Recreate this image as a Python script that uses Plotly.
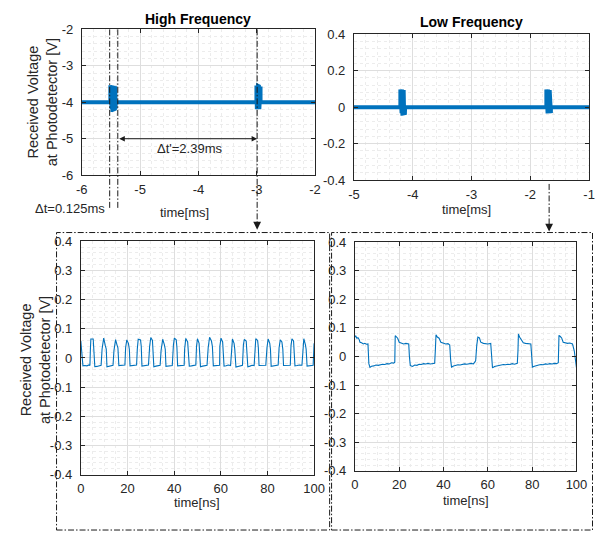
import plotly.graph_objects as go

# ---------------- data ----------------
# High-frequency capture, millisecond view (baseline with two pulse bursts)
hf_ms_t = [-6.0, -5.51,
           -5.51, -5.503, -5.496, -5.489, -5.482, -5.475, -5.468, -5.461, -5.454,
           -5.447, -5.440, -5.433, -5.426, -5.42,
           -5.42, -3.005,
           -3.005, -2.998, -2.991, -2.984, -2.977, -2.970, -2.963, -2.956, -2.949,
           -2.942, -2.935,
           -2.935, -2.0]
hf_ms_v = [-4.0, -4.0,
           -3.53, -4.19, -3.53, -4.19, -3.54, -4.19, -3.54, -4.18, -3.55,
           -4.19, -3.56, -4.18, -3.56, -4.18,
           -4.0, -4.0,
           -3.54, -4.19, -3.54, -4.19, -3.55, -4.18, -3.56, -4.19, -3.57,
           -4.18, -3.57,
           -4.0, -4.0]

# Low-frequency capture, millisecond view
lf_ms_t = [-5.0, -4.21,
           -4.21, -4.203, -4.196, -4.189, -4.182, -4.175, -4.168, -4.161, -4.154,
           -4.147, -4.140, -4.133,
           -4.13, -1.727,
           -1.727, -1.720, -1.713, -1.706, -1.699, -1.692, -1.685, -1.678, -1.671,
           -1.664, -1.657, -1.650,
           -1.65, -1.0]
lf_ms_v = [0.0, 0.0,
           0.097, -0.033, 0.097, -0.033, 0.096, -0.034, 0.095, -0.033, 0.094,
           -0.034, 0.094, -0.033,
           0.0, 0.0,
           0.097, -0.033, 0.097, -0.034, 0.096, -0.033, 0.095, -0.034, 0.094,
           -0.033, 0.094, -0.033,
           0.0, 0.0]

# High-frequency capture, nanosecond view (5 ns period)
hf_ns_t = [0.0, 0.4, 0.9, 1.7, 2.6, 3.5, 3.9,
           4.1, 4.3, 5.3, 5.6, 6.0, 6.9, 7.8, 8.7,
           9.1, 9.8, 10.5, 10.9, 11.2, 12.1, 13.0, 13.8,
           14.2, 14.9, 15.5, 15.9, 16.3, 17.2, 18.1, 18.9,
           19.2, 19.7, 20.4, 20.8, 21.1, 22.0, 23.0, 23.9,
           24.2, 24.6, 25.6, 25.9, 26.2, 27.1, 28.0, 29.0,
           29.5, 30.0, 30.7, 31.0, 31.3, 32.2, 33.1, 34.0,
           34.4, 35.1, 35.8, 36.2, 36.5, 37.4, 38.3, 39.2,
           39.7, 40.1, 40.9, 41.2, 41.5, 42.4, 43.3, 44.3,
           44.5, 45.0, 45.8, 46.1, 46.5, 47.4, 48.3, 49.3,
           49.6, 50.0, 50.7, 51.0, 51.3, 52.2, 53.1, 54.1,
           54.6, 55.2, 56.0, 56.4, 56.8, 57.7, 58.6, 59.5,
           59.6, 60.1, 60.8, 61.1, 61.4, 62.3, 63.2, 64.2,
           64.6, 65.0, 65.7, 66.0, 66.5, 67.4, 68.4, 69.3,
           69.7, 70.1, 70.9, 71.2, 71.6, 72.5, 73.4, 74.3,
           74.6, 75.0, 75.8, 76.1, 76.4, 77.3, 78.3, 79.3,
           79.8, 80.3, 81.0, 81.3, 81.6, 82.5, 83.5, 84.6,
           85.0, 85.5, 86.2, 86.6, 86.9, 87.8, 88.8, 89.8,
           90.1, 90.5, 91.2, 91.5, 91.8, 92.7, 93.7, 94.8,
           95.2, 95.6, 96.3, 96.6, 97.0, 97.9, 98.9, 99.6,
           99.9, 100.0]
hf_ns_v = [0.058, 0.030, -0.027, -0.026, -0.027, -0.024, -0.026,
           0.030, 0.065, 0.065, 0.035, -0.030, -0.029, -0.027, -0.025,
           0.030, 0.068, 0.042, 0.030, -0.030, -0.029, -0.026, -0.025,
           0.025, 0.063, 0.045, 0.035, -0.026, -0.025, -0.026, -0.024,
           0.035, 0.062, 0.050, 0.030, -0.027, -0.026, -0.023, -0.024,
           0.030, 0.064, 0.062, 0.040, -0.028, -0.027, -0.025, -0.024,
           0.040, 0.070, 0.060, 0.030, -0.030, -0.028, -0.026, -0.025,
           0.025, 0.064, 0.046, 0.030, -0.029, -0.028, -0.025, -0.026,
           0.045, 0.068, 0.062, 0.035, -0.027, -0.026, -0.024, -0.025,
           0.030, 0.067, 0.055, 0.030, -0.028, -0.027, -0.026, -0.024,
           0.040, 0.066, 0.050, 0.020, -0.030, -0.028, -0.026, -0.025,
           0.035, 0.071, 0.058, 0.040, -0.027, -0.026, -0.027, -0.025,
           0.040, 0.068, 0.055, 0.025, -0.028, -0.027, -0.024, -0.026,
           0.035, 0.065, 0.050, 0.030, -0.031, -0.029, -0.026, -0.025,
           0.045, 0.064, 0.058, 0.030, -0.030, -0.028, -0.025, -0.026,
           0.040, 0.066, 0.060, 0.035, -0.026, -0.025, -0.024, -0.025,
           0.035, 0.065, 0.050, 0.030, -0.029, -0.027, -0.025, -0.024,
           0.035, 0.062, 0.055, 0.030, -0.026, -0.025, -0.024, -0.025,
           0.040, 0.066, 0.058, 0.030, -0.027, -0.026, -0.024, -0.025,
           0.040, 0.066, 0.045, 0.030, -0.028, -0.027, -0.024, -0.025,
           0.030, 0.050]

# Low-frequency capture, nanosecond view (~18.6 ns period)
lf_ns_t = [0.0, 0.4, 0.9, 1.4, 1.9, 2.3, 3.0, 3.8, 4.5, 5.2, 5.9, 6.1, 6.3, 6.8,
           7.5, 8.5, 9.5, 10.5, 11.5, 12.5, 13.5, 14.5, 15.5, 16.5, 17.5, 18.0,
           18.2, 18.7, 19.3, 20.0, 21.0, 22.0, 23.0, 24.3, 24.6, 25.0,
           26.0, 27.0, 28.0, 29.0, 30.0, 31.0, 32.0, 33.0, 34.0, 35.0, 36.0,
           36.3, 36.6, 37.2, 38.0, 38.8, 40.0, 41.0, 42.0, 42.8, 43.2, 43.6,
           44.5, 45.5, 46.5, 47.5, 48.5, 49.5, 50.5, 51.5, 52.5, 53.5, 54.5,
           55.0, 55.5, 56.2, 56.8, 58.0, 59.0, 60.0, 61.3, 61.8, 62.1,
           63.0, 64.0, 65.0, 66.0, 67.0, 68.0, 69.0, 70.0, 71.0, 72.0, 73.3,
           73.6, 73.8, 74.3, 75.0, 76.0, 77.0, 78.0, 79.4, 79.8, 80.1,
           81.0, 82.0, 83.0, 84.0, 85.0, 86.0, 87.0, 88.0, 89.0, 90.0, 91.0, 91.8,
           92.1, 92.7, 93.3, 94.0, 95.0, 96.0, 97.0, 98.2, 99.0, 99.5, 100.0]
lf_ns_v = [0.068, 0.072, 0.064, 0.066, 0.060, 0.050, 0.048, 0.044, 0.046, 0.043, 0.044, 0.000, -0.025, -0.038,
           -0.034, -0.033, -0.030, -0.031, -0.028, -0.027, -0.028, -0.025, -0.026, -0.022, -0.023, -0.020,
           0.073, 0.068, 0.064, 0.050, 0.046, 0.044, 0.046, 0.044, 0.000, -0.032,
           -0.035, -0.030, -0.031, -0.027, -0.028, -0.025, -0.026, -0.024, -0.026, -0.025, -0.024,
           0.020, 0.076, 0.068, 0.064, 0.050, 0.046, 0.044, 0.045, 0.040, -0.010, -0.037,
           -0.033, -0.030, -0.029, -0.030, -0.027, -0.026, -0.027, -0.025, -0.024, -0.026, -0.015,
           0.040, 0.068, 0.065, 0.050, 0.046, 0.045, 0.044, 0.046, 0.000, -0.040,
           -0.035, -0.033, -0.031, -0.030, -0.028, -0.029, -0.027, -0.028, -0.025, -0.027, -0.024,
           0.020, 0.079, 0.068, 0.060, 0.048, 0.046, 0.045, 0.044, 0.000, -0.037,
           -0.034, -0.031, -0.030, -0.028, -0.029, -0.026, -0.027, -0.025, -0.026, -0.024, -0.025, -0.022,
           0.074, 0.070, 0.065, 0.050, 0.048, 0.046, 0.047, 0.044, 0.020, -0.020, -0.039]

# Tick values and labels
hf_ms_xticks = [-6, -5, -4, -3, -2]
hf_ms_yticks = [-6, -5, -4, -3, -2]
lf_ms_xticks = [-5, -4, -3, -2, -1]
lf_ms_yticks = [-0.4, -0.2, 0, 0.2, 0.4]
lf_ms_ylabels = ["-0.4", "-0.2", "0", "0.2", "0.4"]
ns_xticks = [0, 20, 40, 60, 80, 100]
ns_yticks = [-0.4, -0.3, -0.2, -0.1, 0, 0.1, 0.2, 0.3, 0.4]
ns_ylabels = ["-0.4", "-0.3", "-0.2", "-0.1", "0", "0.1", "0.2", "0.3", "0.4"]

# Measured intervals
dt_burst = 0.125
dt_gap = 2.39

# ---------------- styling ----------------
W, H = 604, 539
BLUE = "#0072BD"
AX = "#262626"
FONT = "Liberation Sans, Arial, sans-serif"
TICK_SIZE = 13


def px(x):
    return x / W


def py(y):
    return 1 - y / H


def axis(domain, rng, tickvals, ticktext, minor_step, anchor, standoff):
    return dict(
        domain=domain, range=rng, anchor=anchor,
        tickvals=tickvals, ticktext=ticktext,
        showline=True, linecolor=AX, linewidth=1, mirror="ticks",
        ticks="inside", ticklen=4, tickcolor=AX, ticklabelstandoff=standoff,
        showgrid=True, gridcolor="#dedede", gridwidth=1,
        zeroline=False,
        tickfont=dict(family=FONT, size=TICK_SIZE, color=AX),
        minor=dict(dtick=minor_step, showgrid=True, gridcolor="#ececec",
                   griddash="dot", gridwidth=1, ticks=""),
    )


fig = go.Figure()
fig.add_trace(go.Scatter(x=hf_ms_t, y=hf_ms_v, mode="lines", xaxis="x", yaxis="y",
                         line=dict(color=BLUE, width=4), showlegend=False))
fig.add_trace(go.Scatter(x=lf_ms_t, y=lf_ms_v, mode="lines", xaxis="x2", yaxis="y2",
                         line=dict(color=BLUE, width=4), showlegend=False))
fig.add_trace(go.Scatter(x=hf_ns_t, y=hf_ns_v, mode="lines", xaxis="x3", yaxis="y3",
                         line=dict(color=BLUE, width=1.1), showlegend=False))
fig.add_trace(go.Scatter(x=lf_ns_t, y=lf_ns_v, mode="lines", xaxis="x4", yaxis="y4",
                         line=dict(color=BLUE, width=1.1), showlegend=False))

layout = dict(
    width=W, height=H, margin=dict(l=0, r=0, t=0, b=0),
    paper_bgcolor="white", plot_bgcolor="white",
    font=dict(family=FONT, color=AX),
    xaxis=axis([px(78), px(318)], [-6, -2], hf_ms_xticks, [str(v) for v in hf_ms_xticks], 0.2, "y", 2),
    yaxis=axis([py(173), py(23)], [-6, -2], hf_ms_yticks, [str(v) for v in hf_ms_yticks], 0.2, "x", 5),
    xaxis2=axis([px(358), px(600)], [-5, -1], lf_ms_xticks, [str(v) for v in lf_ms_xticks], 0.2, "y2", 2),
    yaxis2=axis([py(178), py(28)], [-0.4, 0.4], lf_ms_yticks, lf_ms_ylabels, 0.04, "x2", 5),
    xaxis3=axis([px(77), px(317)], [0, 100], ns_xticks, [str(v) for v in ns_xticks], 5, "y3", 2),
    yaxis3=axis([py(481), py(241)], [-0.4, 0.4], ns_yticks, ns_ylabels, 0.02, "x3", 5),
    xaxis4=axis([px(359), px(587)], [0, 100], ns_xticks, [str(v) for v in ns_xticks], 5, "y4", 2),
    yaxis4=axis([py(477), py(242)], [-0.4, 0.4], ns_yticks, ns_ylabels, 0.02, "x4", 5),
)
fig.update_layout(**layout)

ann = []


def text(x, y, s, size=13, bold=False, angle=0):
    ann.append(dict(x=px(x), y=py(y), xref="paper", yref="paper", text=f"<b>{s}</b>" if bold else s,
                    showarrow=False, xanchor="center", yanchor="middle", textangle=angle,
                    font=dict(family=FONT, size=size, color="#000000" if bold else AX)))


text(197.5, 12.5, "High Frequency", 14, bold=True)
text(479, 15, "Low Frequency", 14, bold=True)
text(37, 98, "Received Voltage<br>at Photodetector [V]", 14.5, angle=-90)
text(31, 363, "Received Voltage<br>at Photodetector [V]", 14.5, angle=-90)
text(184, 211, "time[ms]")
text(474, 208, "time[ms]")
text(197, 510, "time[ns]")
text(473, 508, "time[ns]")
ann.append(dict(x=px(104), y=py(207), xref="paper", yref="paper", text=f"\u0394t={dt_burst}ms",
                showarrow=False, xanchor="right", yanchor="middle",
                font=dict(family=FONT, size=13, color=AX)))
ann.append(dict(x=px(189), y=py(146), xref="paper", yref="paper", text=f"\u0394t'={dt_gap}ms",
                showarrow=False, xanchor="center", yanchor="middle",
                font=dict(family=FONT, size=13, color=AX)))

# Burst markers in data coordinates of the top-left panel
t_start = -5.522
t_end = t_start + dt_burst + 0.014
t_next = t_end + dt_gap

# double-headed interval arrow
ann.append(dict(x=t_next, y=-5.0, xref="x", yref="y", ax=t_end, ay=-5.0, axref="x", ayref="y",
                showarrow=True, arrowhead=2, arrowside="end+start", arrowsize=1.1, arrowwidth=1,
                arrowcolor="#1a1a1a", text=""))
# downward arrow heads
ann.append(dict(x=t_next, y=py(229), xref="x", yref="paper", ax=0, ay=-8,
                showarrow=True, arrowhead=2, arrowsize=1.3, arrowwidth=1.2, arrowcolor="#1a1a1a", text=""))
ann.append(dict(x=-1.68, y=py(231), xref="x2", yref="paper", ax=0, ay=-8,
                showarrow=True, arrowhead=2, arrowsize=1.3, arrowwidth=1.2, arrowcolor="#1a1a1a", text=""))
fig.update_layout(annotations=ann)

DASH = dict(color="#1a1a1a", width=1, dash="6px,2px,1.5px,2px")
shapes = [
    dict(type="line", xref="x", yref="paper", x0=t_start, x1=t_start, y0=py(23), y1=py(208), line=DASH),
    dict(type="line", xref="x", yref="paper", x0=t_end, x1=t_end, y0=py(23), y1=py(208), line=DASH),
    dict(type="line", xref="x", yref="paper", x0=t_next, x1=t_next, y0=py(23), y1=py(222), line=DASH),
    dict(type="line", xref="x2", yref="paper", x0=-1.68, x1=-1.68, y0=py(182), y1=py(224), line=DASH),
    dict(type="rect", xref="paper", yref="paper", x0=px(52), x1=px(333), y0=py(538), y1=py(232), line=DASH),
    dict(type="rect", xref="paper", yref="paper", x0=px(335), x1=px(603.5), y0=py(538), y1=py(232), line=DASH),
]
fig.update_layout(shapes=shapes)

fig.write_html("out.html")
